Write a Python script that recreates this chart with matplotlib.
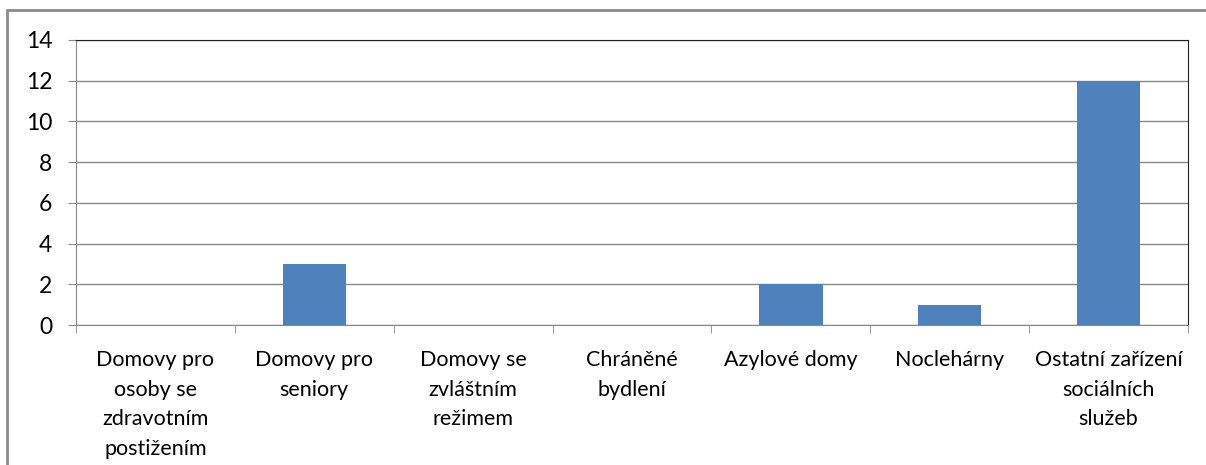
import matplotlib.pyplot as plt
from matplotlib.patches import Rectangle
import numpy as np

plt.rcParams['font.family'] = ['Lato', 'DejaVu Sans']

categories = ['Domovy pro\nosoby se\nzdravotním\npostižením',
              'Domovy pro\nseniory',
              'Domovy se\nzvláštním\nrežimem',
              'Chráněné\nbydlení',
              'Azylové domy',
              'Noclehárny',
              'Ostatní zařízení\nsociálních\nslužeb']
values = [0, 3, 0, 0, 2, 1, 12]
yticks = [0, 2, 4, 6, 8, 10, 12, 14]

fig = plt.figure(figsize=(12.06, 4.65), dpi=100)
ax = fig.add_axes([76/1206, 1-325/465, (1188-76)/1206, (325-40)/465])

# outer chart border (right/bottom fall outside the picture)
fig.patches.append(Rectangle((7/1206, -0.05), 1.1, 1-10/465+0.05, transform=fig.transFigure,
                             fill=False, edgecolor='#8c8c8c', linewidth=2))

x = np.arange(len(categories))
ax.bar(x, values, width=0.4, color='#4F81BD', zorder=3)

ax.set_xlim(-0.5, len(categories)-0.5)
ax.set_ylim(0, 14)
ax.set_yticks(yticks)
ax.tick_params(axis='y', labelsize=16.5, length=6, color='#888888', pad=11)
ax.yaxis.grid(True, color='#888888', linewidth=1)
ax.set_axisbelow(True)

ax.set_xticks(x)
ax.set_xticklabels(categories, fontsize=15.5, linespacing=1.6, va='top')
ax.tick_params(axis='x', length=0, pad=18)
ax.set_xticks(np.arange(-0.5, len(categories)), minor=True)
ax.tick_params(axis='x', which='minor', length=6, color='#888888')

for s in ['left', 'bottom']:
    ax.spines[s].set_color('#888888')
for s in ['top', 'right']:
    ax.spines[s].set_color('#222222')

fig.savefig('out.png', dpi=100)
